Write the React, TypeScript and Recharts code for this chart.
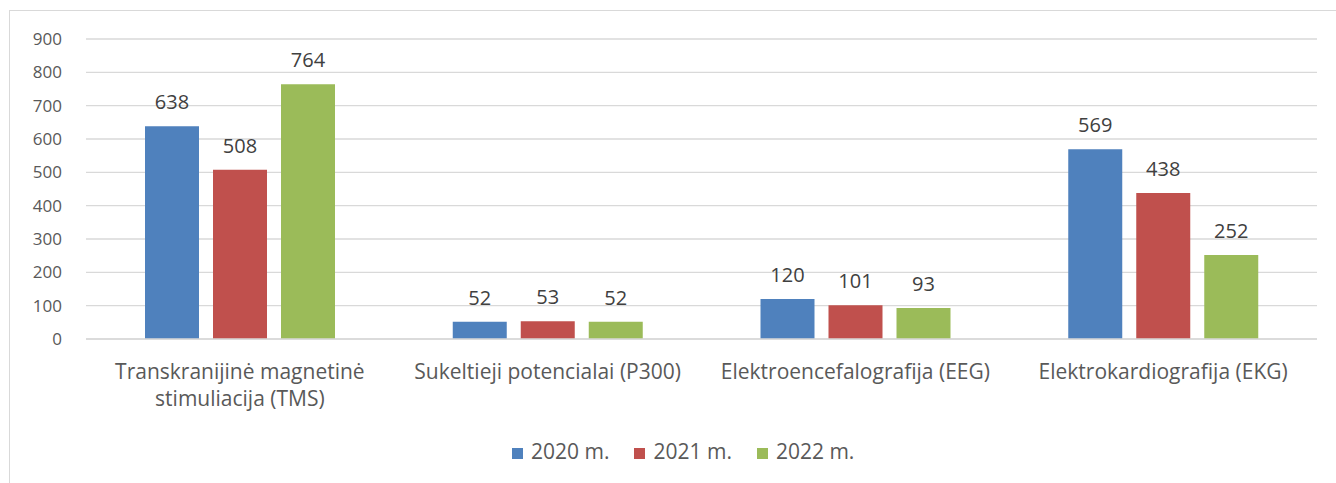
import { Bar, BarChart, CartesianGrid, LabelList, Legend, XAxis, YAxis } from "recharts";

const categories = [
  "Transkranijinė magnetinė\nstimuliacija (TMS)",
  "Sukeltieji potencialai (P300)",
  "Elektroencefalografija (EEG)",
  "Elektrokardiografija (EKG)",
];
const values2020 = [638, 52, 120, 569];
const values2021 = [508, 53, 101, 438];
const values2022 = [764, 52, 93, 252];
const yTicks = [0, 100, 200, 300, 400, 500, 600, 700, 800, 900];

const data = categories.map((name, i) => ({
  name,
  y2020: values2020[i],
  y2021: values2021[i],
  y2022: values2022[i],
}));

const FONT = "'Open Sans', sans-serif";
const TEXT = "#595959";

// category labels, broken on "\n"
function CategoryTick(props: any) {
  const { x, y, payload } = props;
  const lines = String(payload.value).split("\n");
  return (
    <text x={x} y={y + 32} textAnchor="middle" fill={TEXT} fontSize={21} fontFamily={FONT}>
      {lines.map((l, i) => (
        <tspan key={i} x={x} dy={i === 0 ? 0 : 27}>
          {l}
        </tspan>
      ))}
    </text>
  );
}

export default function App() {
  return (
    <div style={{ position: "fixed", left: 0, top: 0, width: 1336, height: 483, background: "#fff", overflow: "hidden" }}>
      <div
        style={{
          position: "absolute",
          left: 9,
          top: 10,
          width: 1400,
          height: 600,
          border: "1px solid #d9d9d9",
        }}
      />
      <BarChart
        width={1336}
        height={483}
        data={data}
        margin={{ top: 39, right: 19, left: 0, bottom: 0 }}
        barCategoryGap={59}
        barGap={14}
        style={{ position: "absolute", left: 0, top: 0, fontFamily: FONT }}
      >
        <CartesianGrid vertical={false} stroke="#d9d9d9" strokeWidth={1.3} />
        <XAxis
          dataKey="name"
          axisLine={{ stroke: "#d9d9d9", strokeWidth: 1.3 }}
          tickLine={false}
          tick={<CategoryTick />}
          interval={0}
          height={116}
        />
        <YAxis
          domain={[0, 900]}
          ticks={yTicks}
          width={86}
          axisLine={false}
          tickLine={false}
          tickMargin={18}
          tick={{ fill: TEXT, fontSize: 17, fontFamily: FONT }}
        />
        <Legend
          verticalAlign="bottom"
          align="left"
          iconType="square"
          iconSize={11}
          wrapperStyle={{ top: 437, left: 512, width: 400, fontSize: 21, fontFamily: FONT }}
          formatter={(v: string) => <span style={{ color: TEXT, marginLeft: 4, marginRight: 15 }}>{v}</span>}
        />
        <Bar dataKey="y2020" name="2020 m." fill="#4f81bd" barSize={54} isAnimationActive={false}>
          <LabelList dataKey="y2020" position="top" offset={17} fill="#404040" fontSize={20} fontFamily={FONT} />
        </Bar>
        <Bar dataKey="y2021" name="2021 m." fill="#c0504d" barSize={54} isAnimationActive={false}>
          <LabelList dataKey="y2021" position="top" offset={17} fill="#404040" fontSize={20} fontFamily={FONT} />
        </Bar>
        <Bar dataKey="y2022" name="2022 m." fill="#9bbb59" barSize={54} isAnimationActive={false}>
          <LabelList dataKey="y2022" position="top" offset={17} fill="#404040" fontSize={20} fontFamily={FONT} />
        </Bar>
      </BarChart>
    </div>
  );
}
